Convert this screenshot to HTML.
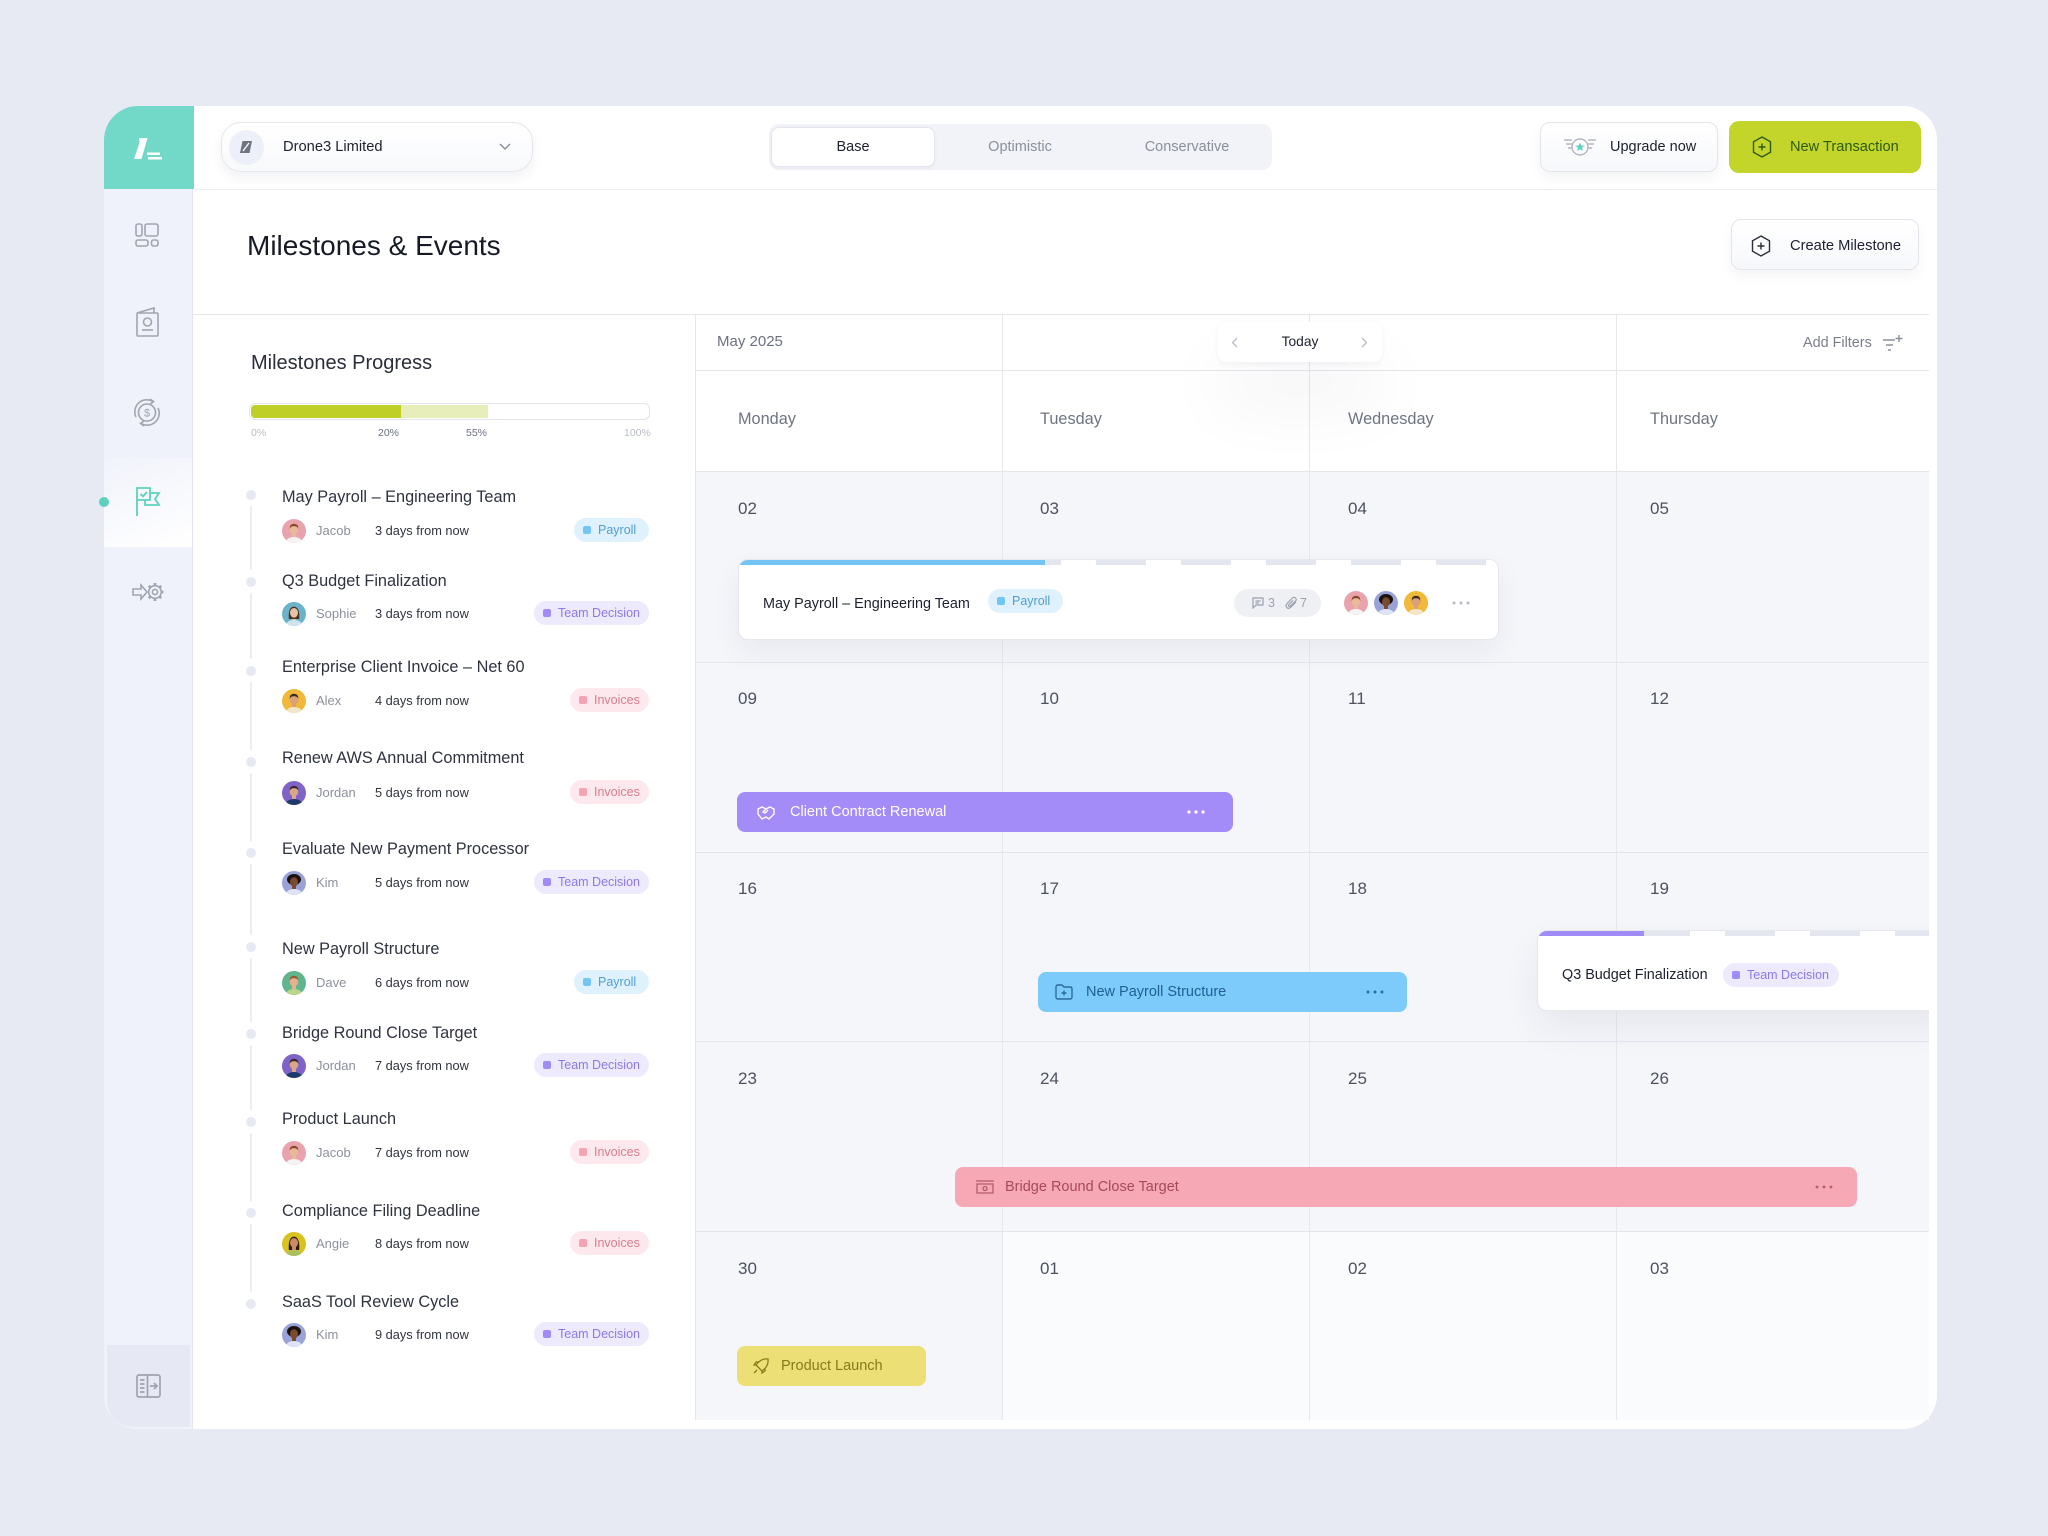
<!DOCTYPE html>
<html><head><meta charset="utf-8">
<style>
*{box-sizing:border-box;margin:0;padding:0}
html,body{width:2048px;height:1536px;overflow:hidden}
body{background:#e8eaf3;font-family:"Liberation Sans",sans-serif;position:relative;color:#1d2130}
.a{position:absolute}
svg{display:block}
.t{white-space:nowrap}
.btn{position:absolute;border:1.5px solid #e3e5ec;background:linear-gradient(180deg,#ffffff,#f7f8fb);border-radius:10px;box-shadow:0 6px 12px rgba(30,40,80,0.05)}
.ttl{position:absolute;font-size:16.3px;line-height:20px;color:#2f3340;white-space:nowrap}
.nm{position:absolute;font-size:13px;line-height:16px;color:#8b909c;white-space:nowrap}
.dy{position:absolute;font-size:12.8px;line-height:16px;color:#30343f;white-space:nowrap}
.av{position:absolute;width:24px;height:24px;border-radius:50%;overflow:hidden}
.dot{position:absolute;width:10px;height:10px;border-radius:50%;background:#e6e9f2}
.tl{position:absolute;width:2px;background:#eceef5}
.tag{position:absolute;height:24px;border-radius:12px;font-size:12.5px;line-height:24px;white-space:nowrap;padding-left:24px}
.tag i{position:absolute;left:9px;top:8px;width:8px;height:8px;border-radius:2px}
.pay{background:#dff1fd;color:#4f9fd1}.pay i{background:#72c6f6}
.team{background:#eeeafd;color:#8d78e6}.team i{background:#a18cf7}
.inv{background:#fde9ed;color:#d57d8e}.inv i{background:#f4a3b2}
.hl{position:absolute;left:0;width:1234px;height:1px;background:#e4e6ec}
.vl{position:absolute;top:0;width:1px;height:1105px;background:#e6e8ee}
.dn{position:absolute;font-size:16.3px;line-height:20px;color:#6f7483;white-space:nowrap}
.dt{position:absolute;font-size:17px;line-height:20px;color:#4d5260;white-space:nowrap}
.bar{position:absolute;height:40px;border-radius:8px;font-size:14.5px;line-height:40px;white-space:nowrap}
.bar .a{top:0}
</style></head><body>

<!-- main card -->
<div class="a" style="left:104px;top:106px;width:1833px;height:1323px;background:#fff;border-radius:34px;overflow:hidden">
  <div class="a" style="left:0;top:0;width:89px;height:1323px;background:#eff2fb;border-right:1px solid #e3e6ee"></div>
  <div class="a" style="left:0;top:0;width:90px;height:83px;background:#72d8c7"></div>
  <div class="a" style="left:0;top:352px;width:88px;height:89px;background:linear-gradient(160deg,#f1f3fb 0%,#ffffff 100%)"></div>
  <div class="a" style="left:3px;top:1239px;width:83px;height:82px;background:#e6e9f3;border-radius:2px 2px 2px 26px"></div>
</div>

<!-- logo -->
<svg class="a" style="left:128px;top:134px" width="40" height="30" viewBox="128 134 40 30">
  <polygon points="141,138 147.5,138 141.5,159 134,159" fill="#fff"/>
  <rect x="139" y="138" width="4" height="3" fill="#fff"/>
  <rect x="147" y="152.5" width="13" height="2.5" fill="#fff"/>
  <rect x="148" y="157" width="14" height="2.5" fill="#fff"/>
</svg>

<!-- sidebar icons -->
<svg class="a" style="left:135px;top:223px" width="24" height="24" viewBox="0 0 24 24" fill="none" stroke="#a0a5b1" stroke-width="1.6"><rect x="1" y="1" width="6" height="12" rx="2"/><rect x="10" y="1" width="13" height="12" rx="2"/><rect x="1" y="17" width="12" height="6" rx="2"/><rect x="16.5" y="17" width="6.5" height="6" rx="2"/></svg>
<svg class="a" style="left:136px;top:307px" width="23" height="30" viewBox="0 0 23 30" fill="none" stroke="#a0a5b1" stroke-width="1.6"><rect x="1" y="6" width="21" height="23" rx="1"/><path d="M1 6 L18 1 V6"/><circle cx="11.5" cy="15" r="4"/><path d="M6 23 H17"/></svg>
<svg class="a" style="left:132px;top:397px" width="30" height="31" viewBox="0 0 30 31" fill="none" stroke="#a0a5b1" stroke-width="1.6"><circle cx="15" cy="15.5" r="8.5"/><path d="M4 20 A12 12 0 0 1 21 4.5"/><path d="M26 11 A12 12 0 0 1 9 26.5"/><path d="M18 2 L21.5 4.5 L18 7.5"/><path d="M12 24 L8.5 26.5 L12 29"/><text x="15" y="19.5" text-anchor="middle" font-size="11" font-family="Liberation Sans, sans-serif" fill="#a0a5b1" stroke="none">$</text></svg>
<div class="a" style="left:99px;top:497px;width:10px;height:10px;border-radius:50%;background:#5dd1bd"></div>
<svg class="a" style="left:135px;top:487px" width="26" height="30" viewBox="0 0 26 30" fill="none" stroke="#5dd1bd" stroke-width="1.8"><path d="M2 29 V1 H15 V13 H2"/><path d="M15 6 H24 L20 12 L24 18 H10 V13"/><path d="M5.5 7 L8 9.5 L12 5"/></svg>
<svg class="a" style="left:132px;top:580px" width="32" height="24" viewBox="0 0 32 24" fill="none" stroke="#a0a5b1" stroke-width="1.6"><path d="M1 9 H9 V5 L15 12 L9 19 V15 H1 Z"/><circle cx="23" cy="12" r="6.3"/><circle cx="23" cy="12" r="2.6"/><g stroke-width="2.6"><path d="M23 3 V5.5 M23 18.5 V21 M29.5 12 H31.5 M27.6 7.4 L29.2 5.8 M27.6 16.6 L29.2 18.2 M18.4 7.4 L16.8 5.8 M18.4 16.6 L16.8 18.2"/></g></svg>
<svg class="a" style="left:136px;top:1374px" width="25" height="24" viewBox="0 0 25 24" fill="none" stroke="#9ea3b0" stroke-width="1.7"><rect x="1" y="1" width="23" height="22" rx="2"/><path d="M11.5 1 V23"/><path d="M4 6 H8.5 M4 10 H8.5 M4 14 H8.5 M4 18 H8.5"/><path d="M14 12 H21 M18 9 L21 12 L18 15"/></svg>

<!-- separators -->
<div class="a" style="left:193px;top:189px;width:1744px;height:1px;background:#eceef3"></div>
<div class="a" style="left:193px;top:314px;width:1736px;height:1px;background:#e4e6ec"></div>
<div class="a" style="left:695px;top:315px;width:1px;height:1105px;background:#e4e6ec"></div>

<!-- top bar -->
<div class="a" style="left:221px;top:122px;width:312px;height:50px;border-radius:20px;border:1.5px solid #e4e6ec;background:linear-gradient(180deg,#fff,#f8f9fc);box-shadow:0 6px 12px rgba(30,40,80,0.06)"></div>
<div class="a" style="left:229px;top:130px;width:35px;height:35px;border-radius:50%;background:#eef0f9"></div>
<svg class="a" style="left:239px;top:140px" width="14" height="14" viewBox="0 0 14 14"><path d="M3.5 1 H13 L10.5 13 H1 Z" fill="#6f7482"/><path d="M4 11 L10 3" stroke="#fff" stroke-width="1.3"/></svg>
<div class="a t" style="left:283px;top:138px;font-size:14.7px;line-height:18px;color:#1d2130">Drone3 Limited</div>
<svg class="a" style="left:499px;top:143px" width="12" height="8" viewBox="0 0 12 8" fill="none" stroke="#8a8f9c" stroke-width="1.5"><path d="M1 1 L6 6 L11 1"/></svg>

<div class="a" style="left:769px;top:124px;width:503px;height:46px;border-radius:10px;background:#f1f3f8"></div>
<div class="a" style="left:771px;top:127px;width:164px;height:40px;border-radius:8px;background:#fff;border:1px solid #e3e5eb;box-shadow:0 2px 4px rgba(30,40,80,0.04)"></div>
<div class="a t" style="left:771px;top:127px;width:164px;text-align:center;font-size:14.5px;line-height:40px;color:#1d2130">Base</div>
<div class="a t" style="left:940px;top:127px;width:160px;text-align:center;font-size:14.5px;line-height:40px;color:#8a8f9c">Optimistic</div>
<div class="a t" style="left:1107px;top:127px;width:160px;text-align:center;font-size:14.5px;line-height:40px;color:#8a8f9c">Conservative</div>

<div class="btn" style="left:1540px;top:122px;width:178px;height:50px"></div>
<svg class="a" style="left:1562px;top:135px" width="36" height="24" viewBox="0 0 36 24" fill="none" stroke="#b3b7c2" stroke-width="1.4"><circle cx="18" cy="12" r="8"/><path d="M2 5 H10 M4 9 H10 M6 13 H10 M26 5 H34 M26 9 H32 M26 13 H30"/><path d="M18 7.5 L19.3 10.5 L22.5 10.7 L20 12.8 L20.9 16 L18 14.2 L15.1 16 L16 12.8 L13.5 10.7 L16.7 10.5Z" fill="#5dd1bd" stroke="none"/></svg>
<div class="a t" style="left:1610px;top:138px;font-size:14.5px;line-height:18px;color:#1d2130">Upgrade now</div>

<div class="a" style="left:1729px;top:121px;width:192px;height:52px;border-radius:10px;background:#c3d42b"></div>
<svg class="a" style="left:1752px;top:136px" width="20" height="22" viewBox="0 0 20 22" fill="none" stroke="#2d5a17" stroke-width="1.4"><path d="M10 1 L18.5 5.8 V16.2 L10 21 L1.5 16.2 V5.8 Z"/><path d="M10 7.5 V14.5 M6.5 11 H13.5"/></svg>
<div class="a t" style="left:1790px;top:138px;font-size:14.6px;line-height:18px;color:#2d5a17">New Transaction</div>

<!-- page header -->
<div class="a t" style="left:247px;top:229px;font-size:28px;line-height:34px;color:#161a26">Milestones &amp; Events</div>
<div class="btn" style="left:1731px;top:219px;width:188px;height:51px"></div>
<svg class="a" style="left:1751px;top:235px" width="20" height="22" viewBox="0 0 20 22" fill="none" stroke="#2a2e3a" stroke-width="1.4"><path d="M10 1 L18.5 5.8 V16.2 L10 21 L1.5 16.2 V5.8 Z"/><path d="M10 7.5 V14.5 M6.5 11 H13.5"/></svg>
<div class="a t" style="left:1790px;top:237px;font-size:14.7px;line-height:18px;color:#1d2130">Create Milestone</div>

<!-- left panel -->
<div class="a t" style="left:251px;top:351px;font-size:20px;line-height:24px;color:#2a2e3a">Milestones Progress</div>
<div class="a" style="left:249px;top:403px;width:401px;height:17px;border-radius:6px;border:1px solid #e2e4ea;background:#fff"></div>
<div class="a" style="left:401px;top:405px;width:87px;height:13px;background:#e8eeb9"></div>
<div class="a" style="left:251px;top:405px;width:150px;height:13px;border-radius:4px 0 0 4px;background:#bfcf27"></div>
<div class="a t" style="left:251px;top:426px;font-size:10.5px;line-height:14px;color:#b9bdc6">0%</div>
<div class="a t" style="left:378px;top:426px;font-size:10.5px;line-height:14px;color:#6b7080">20%</div>
<div class="a t" style="left:466px;top:426px;font-size:10.5px;line-height:14px;color:#6b7080">55%</div>
<div class="a t" style="left:624px;top:426px;font-size:10.5px;line-height:14px;color:#b9bdc6">100%</div>

<!-- item 1 -->
<div class="dot" style="left:246px;top:490px"></div><div class="tl" style="left:250px;top:506px;height:64px"></div>
<div class="ttl" style="left:282px;top:487px">May Payroll – Engineering Team</div>
<div class="av" style="left:282px;top:519px"><svg width="24" height="24" viewBox="0 0 24 24"><rect width="24" height="24" fill="#e9a3ad"/><ellipse cx="12" cy="25" rx="9" ry="7" fill="#f3f3f3"/><rect x="10" y="14" width="4" height="4" fill="#e8b99a"/><ellipse cx="12" cy="10.5" rx="4.3" ry="5" fill="#e8b99a"/><path d="M7.6 10 Q7.5 4.8 12 4.8 Q16.5 4.8 16.4 10 Q15 7 12 7.3 Q9 7 7.6 10Z" fill="#8a4a2a"/></svg></div>
<div class="nm" style="left:316px;top:523px">Jacob</div><div class="dy" style="left:375px;top:523px">3 days from now</div>
<div class="tag pay" style="left:574px;top:518px;width:75px"><i></i>Payroll</div>

<!-- item 2 -->
<div class="dot" style="left:246px;top:577px"></div><div class="tl" style="left:250px;top:593px;height:66px"></div>
<div class="ttl" style="left:282px;top:571px">Q3 Budget Finalization</div>
<div class="av" style="left:282px;top:602px"><svg width="24" height="24" viewBox="0 0 24 24"><rect width="24" height="24" fill="#6ab3c9"/><ellipse cx="12" cy="25" rx="9" ry="7" fill="#cfe3ec"/><rect x="10" y="14" width="4" height="4" fill="#e9c2a6"/><path d="M6.8 17 Q6 5 12 4.6 Q18 5 17.2 17Z" fill="#4a2f22"/><ellipse cx="12" cy="10.8" rx="4" ry="4.8" fill="#e9c2a6"/></svg></div>
<div class="nm" style="left:316px;top:606px">Sophie</div><div class="dy" style="left:375px;top:606px">3 days from now</div>
<div class="tag team" style="left:534px;top:601px;width:115px"><i></i>Team Decision</div>

<!-- item 3 -->
<div class="dot" style="left:246px;top:666px"></div><div class="tl" style="left:250px;top:682px;height:68px"></div>
<div class="ttl" style="left:282px;top:657px">Enterprise Client Invoice – Net 60</div>
<div class="av" style="left:282px;top:689px"><svg width="24" height="24" viewBox="0 0 24 24"><rect width="24" height="24" fill="#f0b93a"/><ellipse cx="12" cy="25" rx="9" ry="7" fill="#f2e6c8"/><rect x="10" y="14" width="4" height="4" fill="#d9a07a"/><ellipse cx="12" cy="10.5" rx="4.3" ry="5" fill="#d9a07a"/><path d="M7.6 10 Q7.5 4.8 12 4.8 Q16.5 4.8 16.4 10 Q15 7 12 7.3 Q9 7 7.6 10Z" fill="#3a2a20"/></svg></div>
<div class="nm" style="left:316px;top:693px">Alex</div><div class="dy" style="left:375px;top:693px">4 days from now</div>
<div class="tag inv" style="left:570px;top:688px;width:79px"><i></i>Invoices</div>

<!-- item 4 -->
<div class="dot" style="left:246px;top:757px"></div><div class="tl" style="left:250px;top:773px;height:68px"></div>
<div class="ttl" style="left:282px;top:748px">Renew AWS Annual Commitment</div>
<div class="av" style="left:282px;top:781px"><svg width="24" height="24" viewBox="0 0 24 24"><rect width="24" height="24" fill="#7f63c9"/><ellipse cx="12" cy="25" rx="9" ry="7" fill="#1f3a6a"/><rect x="10" y="14" width="4" height="4" fill="#d9a686"/><ellipse cx="12" cy="10.5" rx="4.3" ry="5" fill="#d9a686"/><path d="M7.6 10 Q7.5 4.8 12 4.8 Q16.5 4.8 16.4 10 Q15 7 12 7.3 Q9 7 7.6 10Z" fill="#3a2a22"/></svg></div>
<div class="nm" style="left:316px;top:785px">Jordan</div><div class="dy" style="left:375px;top:785px">5 days from now</div>
<div class="tag inv" style="left:570px;top:780px;width:79px"><i></i>Invoices</div>

<!-- item 5 -->
<div class="dot" style="left:246px;top:848px"></div><div class="tl" style="left:250px;top:864px;height:71px"></div>
<div class="ttl" style="left:282px;top:839px">Evaluate New Payment Processor</div>
<div class="av" style="left:282px;top:871px"><svg width="24" height="24" viewBox="0 0 24 24"><rect width="24" height="24" fill="#9aa3d8"/><ellipse cx="12" cy="25" rx="9" ry="7" fill="#dfe3f5"/><ellipse cx="12" cy="8.5" rx="7" ry="5.5" fill="#1a120e"/><rect x="10" y="14" width="4" height="4" fill="#7a4a30"/><ellipse cx="12" cy="11" rx="4" ry="4.7" fill="#7a4a30"/></svg></div>
<div class="nm" style="left:316px;top:875px">Kim</div><div class="dy" style="left:375px;top:875px">5 days from now</div>
<div class="tag team" style="left:534px;top:870px;width:115px"><i></i>Team Decision</div>

<!-- item 6 -->
<div class="dot" style="left:246px;top:942px"></div><div class="tl" style="left:250px;top:958px;height:64px"></div>
<div class="ttl" style="left:282px;top:939px">New Payroll Structure</div>
<div class="av" style="left:282px;top:971px"><svg width="24" height="24" viewBox="0 0 24 24"><rect width="24" height="24" fill="#5fb58d"/><ellipse cx="12" cy="25" rx="9" ry="7" fill="#b9d68a"/><rect x="10" y="14" width="4" height="4" fill="#e7b08e"/><ellipse cx="12" cy="10.5" rx="4.3" ry="5" fill="#e7b08e"/><path d="M7.6 10 Q7.5 4.8 12 4.8 Q16.5 4.8 16.4 10 Q15 7 12 7.3 Q9 7 7.6 10Z" fill="#9a5a30"/></svg></div>
<div class="nm" style="left:316px;top:975px">Dave</div><div class="dy" style="left:375px;top:975px">6 days from now</div>
<div class="tag pay" style="left:574px;top:970px;width:75px"><i></i>Payroll</div>

<!-- item 7 -->
<div class="dot" style="left:246px;top:1029px"></div><div class="tl" style="left:250px;top:1045px;height:65px"></div>
<div class="ttl" style="left:282px;top:1023px">Bridge Round Close Target</div>
<div class="av" style="left:282px;top:1054px"><svg width="24" height="24" viewBox="0 0 24 24"><rect width="24" height="24" fill="#7f63c9"/><ellipse cx="12" cy="25" rx="9" ry="7" fill="#1f3a6a"/><rect x="10" y="14" width="4" height="4" fill="#d9a686"/><ellipse cx="12" cy="10.5" rx="4.3" ry="5" fill="#d9a686"/><path d="M7.6 10 Q7.5 4.8 12 4.8 Q16.5 4.8 16.4 10 Q15 7 12 7.3 Q9 7 7.6 10Z" fill="#3a2a22"/></svg></div>
<div class="nm" style="left:316px;top:1058px">Jordan</div><div class="dy" style="left:375px;top:1058px">7 days from now</div>
<div class="tag team" style="left:534px;top:1053px;width:115px"><i></i>Team Decision</div>

<!-- item 8 -->
<div class="dot" style="left:246px;top:1117px"></div><div class="tl" style="left:250px;top:1133px;height:68px"></div>
<div class="ttl" style="left:282px;top:1109px">Product Launch</div>
<div class="av" style="left:282px;top:1141px"><svg width="24" height="24" viewBox="0 0 24 24"><rect width="24" height="24" fill="#e9a3ad"/><ellipse cx="12" cy="25" rx="9" ry="7" fill="#f3f3f3"/><rect x="10" y="14" width="4" height="4" fill="#e8b99a"/><ellipse cx="12" cy="10.5" rx="4.3" ry="5" fill="#e8b99a"/><path d="M7.6 10 Q7.5 4.8 12 4.8 Q16.5 4.8 16.4 10 Q15 7 12 7.3 Q9 7 7.6 10Z" fill="#8a4a2a"/></svg></div>
<div class="nm" style="left:316px;top:1145px">Jacob</div><div class="dy" style="left:375px;top:1145px">7 days from now</div>
<div class="tag inv" style="left:570px;top:1140px;width:79px"><i></i>Invoices</div>

<!-- item 9 -->
<div class="dot" style="left:246px;top:1208px"></div><div class="tl" style="left:250px;top:1224px;height:68px"></div>
<div class="ttl" style="left:282px;top:1201px">Compliance Filing Deadline</div>
<div class="av" style="left:282px;top:1232px"><svg width="24" height="24" viewBox="0 0 24 24"><rect width="24" height="24" fill="#d9c21e"/><ellipse cx="12" cy="25" rx="9" ry="7" fill="#a8c060"/><path d="M6.8 18 Q6 5 12 4.6 Q18 5 17.2 18Z" fill="#2a1a12"/><rect x="10" y="14" width="4" height="4" fill="#c98a6a"/><ellipse cx="12" cy="10.8" rx="4" ry="4.8" fill="#c98a6a"/></svg></div>
<div class="nm" style="left:316px;top:1236px">Angie</div><div class="dy" style="left:375px;top:1236px">8 days from now</div>
<div class="tag inv" style="left:570px;top:1231px;width:79px"><i></i>Invoices</div>

<!-- item 10 -->
<div class="dot" style="left:246px;top:1299px"></div>
<div class="ttl" style="left:282px;top:1292px">SaaS Tool Review Cycle</div>
<div class="av" style="left:282px;top:1323px"><svg width="24" height="24" viewBox="0 0 24 24"><rect width="24" height="24" fill="#9aa3d8"/><ellipse cx="12" cy="25" rx="9" ry="7" fill="#dfe3f5"/><ellipse cx="12" cy="8.5" rx="7" ry="5.5" fill="#1a120e"/><rect x="10" y="14" width="4" height="4" fill="#7a4a30"/><ellipse cx="12" cy="11" rx="4" ry="4.7" fill="#7a4a30"/></svg></div>
<div class="nm" style="left:316px;top:1327px">Kim</div><div class="dy" style="left:375px;top:1327px">9 days from now</div>
<div class="tag team" style="left:534px;top:1322px;width:115px"><i></i>Team Decision</div>

<!-- calendar -->
<div class="a" style="left:696px;top:315px;width:1233px;height:1105px;overflow:hidden;background:#fff">
 <div style="position:absolute;left:-1px;top:0;width:1234px;height:1105px">
  <div class="a" style="left:0;top:156px;width:1234px;height:949px;background:#f5f6fa"></div>
  <div class="a" style="left:307px;top:916px;width:927px;height:189px;background:#fafbfd"></div>
  <div class="hl" style="top:55px"></div>
  <div class="hl" style="top:156px"></div>
  <div class="hl" style="top:347px"></div>
  <div class="hl" style="top:537px"></div>
  <div class="hl" style="top:726px"></div>
  <div class="hl" style="top:916px"></div>
  <div class="vl" style="left:307px"></div>
  <div class="vl" style="left:614px"></div>
  <div class="vl" style="left:921px"></div>

  <div class="a t" style="left:22px;top:18px;font-size:15px;line-height:18px;color:#6b7080">May 2025</div>
  <div class="a" style="left:523px;top:7px;width:164px;height:40px;border-radius:8px;background:#fff;box-shadow:0 2px 6px rgba(20,30,60,0.05),0 40px 70px rgba(20,30,60,0.06)"></div>
  <svg class="a" style="left:536px;top:22px" width="7" height="11" viewBox="0 0 7 11" fill="none" stroke="#b8bcc6" stroke-width="1.3"><path d="M6 1 L1.5 5.5 L6 10"/></svg>
  <div class="a t" style="left:523px;top:7px;width:164px;text-align:center;font-size:13.8px;line-height:40px;color:#1d2130">Today</div>
  <svg class="a" style="left:666px;top:22px" width="7" height="11" viewBox="0 0 7 11" fill="none" stroke="#b8bcc6" stroke-width="1.3"><path d="M1 1 L5.5 5.5 L1 10"/></svg>
  <div class="a t" style="left:1108px;top:19px;font-size:14.4px;line-height:18px;color:#7a7f8c">Add Filters</div>
  <svg class="a" style="left:1188px;top:19px" width="20" height="18" viewBox="0 0 20 18" fill="none" stroke="#8a8f9c" stroke-width="1.4"><path d="M0 6 H12 M3 11 H10 M5 16 H8 M16 1 V8 M12.5 4.5 H19.5"/></svg>

  <div class="dn" style="left:43px;top:94px">Monday</div>
  <div class="dn" style="left:345px;top:94px">Tuesday</div>
  <div class="dn" style="left:653px;top:94px">Wednesday</div>
  <div class="dn" style="left:955px;top:94px">Thursday</div>

  <div class="dt" style="left:43px;top:184px">02</div><div class="dt" style="left:345px;top:184px">03</div><div class="dt" style="left:653px;top:184px">04</div><div class="dt" style="left:955px;top:184px">05</div>
  <div class="dt" style="left:43px;top:374px">09</div><div class="dt" style="left:345px;top:374px">10</div><div class="dt" style="left:653px;top:374px">11</div><div class="dt" style="left:955px;top:374px">12</div>
  <div class="dt" style="left:43px;top:564px">16</div><div class="dt" style="left:345px;top:564px">17</div><div class="dt" style="left:653px;top:564px">18</div><div class="dt" style="left:955px;top:564px">19</div>
  <div class="dt" style="left:43px;top:754px">23</div><div class="dt" style="left:345px;top:754px">24</div><div class="dt" style="left:653px;top:754px">25</div><div class="dt" style="left:955px;top:754px">26</div>
  <div class="dt" style="left:43px;top:944px">30</div><div class="dt" style="left:345px;top:944px">01</div><div class="dt" style="left:653px;top:944px">02</div><div class="dt" style="left:955px;top:944px">03</div>

  <!-- May Payroll card -->
  <div class="a" style="left:43px;top:244px;width:761px;height:81px;border-radius:10px;background:#fff;border:1px solid #e6e8ee;overflow:hidden;box-shadow:0 12px 30px rgba(30,40,80,0.06)">
    <div class="a" style="left:0;top:0;width:306px;height:5px;background:#74c3f5"></div>
    <div class="a" style="left:306px;top:0;width:455px;height:5px;background:repeating-linear-gradient(90deg,#e3e6ee 0 16px,#fff 16px 51px,#e3e6ee 51px 85px)"></div>
    <div class="a t" style="left:24px;top:34px;font-size:14.4px;line-height:20px;color:#1d2130">May Payroll – Engineering Team</div>
    <div class="tag pay" style="left:249px;top:29px;width:75px"><i></i>Payroll</div>
    <div class="a" style="left:495px;top:29px;width:87px;height:28px;border-radius:14px;background:#eef0f4"></div>
    <svg class="a" style="left:513px;top:37px" width="12" height="12" viewBox="0 0 12 12" fill="none" stroke="#9ca1ad" stroke-width="1.2"><path d="M1 1 H11 V8 H4 L1 11 Z"/><path d="M3.5 4 H8.5 M3.5 6 H7"/></svg>
    <div class="a t" style="left:529px;top:35px;font-size:12.5px;line-height:16px;color:#9ca1ad">3</div>
    <svg class="a" style="left:546px;top:36px" width="13" height="14" viewBox="0 0 13 14" fill="none" stroke="#9ca1ad" stroke-width="1.2"><path d="M11 6 L6 11 Q3.5 13.5 1.8 11.5 Q0 9.5 2.5 7 L7.5 2 Q9 0.5 10.5 2 Q12 3.5 10.5 5 L5.5 10 Q4.5 11 3.8 10.2 Q3 9.4 4 8.4 L8 4.4"/></svg>
    <div class="a t" style="left:561px;top:35px;font-size:12.5px;line-height:16px;color:#9ca1ad">7</div>
    <div class="av" style="left:605px;top:31px"><svg width="24" height="24" viewBox="0 0 24 24"><rect width="24" height="24" fill="#e9a3ad"/><ellipse cx="12" cy="25" rx="9" ry="7" fill="#f3f3f3"/><rect x="10" y="14" width="4" height="4" fill="#e8b99a"/><ellipse cx="12" cy="10.5" rx="4.3" ry="5" fill="#e8b99a"/><path d="M7.6 10 Q7.5 4.8 12 4.8 Q16.5 4.8 16.4 10 Q15 7 12 7.3 Q9 7 7.6 10Z" fill="#8a4a2a"/></svg></div>
    <div class="av" style="left:635px;top:31px"><svg width="24" height="24" viewBox="0 0 24 24"><rect width="24" height="24" fill="#9aa3d8"/><ellipse cx="12" cy="25" rx="9" ry="7" fill="#dfe3f5"/><ellipse cx="12" cy="8.5" rx="7" ry="5.5" fill="#1a120e"/><rect x="10" y="14" width="4" height="4" fill="#7a4a30"/><ellipse cx="12" cy="11" rx="4" ry="4.7" fill="#7a4a30"/></svg></div>
    <div class="av" style="left:665px;top:31px"><svg width="24" height="24" viewBox="0 0 24 24"><rect width="24" height="24" fill="#f0b93a"/><ellipse cx="12" cy="25" rx="9" ry="7" fill="#f2e6c8"/><rect x="10" y="14" width="4" height="4" fill="#d9a07a"/><ellipse cx="12" cy="10.5" rx="4.3" ry="5" fill="#d9a07a"/><path d="M7.6 10 Q7.5 4.8 12 4.8 Q16.5 4.8 16.4 10 Q15 7 12 7.3 Q9 7 7.6 10Z" fill="#3a2a20"/></svg></div>
    <svg class="a" style="left:713px;top:41px" width="18" height="4" viewBox="0 0 18 4" fill="#b8bcc6"><circle cx="2" cy="2" r="1.5"/><circle cx="9" cy="2" r="1.5"/><circle cx="16" cy="2" r="1.5"/></svg>
  </div>

  <!-- Client Contract Renewal -->
  <div class="bar" style="left:42px;top:477px;width:496px;background:#a38cf8;color:#fff">
    <svg class="a" style="left:20px;top:13px" width="18" height="16" viewBox="0 0 18 16" fill="none" stroke="#fff" stroke-width="1.4"><path d="M1 4 L5 2 L9 4 L13 2 L17 4 V9 L12 14 L9 12 L5 14 L1 9 Z"/><path d="M9 4 L6 7 L8 8 L11 5"/></svg>
    <span class="a" style="left:53px">Client Contract Renewal</span>
    <svg class="a" style="left:450px;top:18px" width="18" height="4" viewBox="0 0 18 4" fill="#fff"><circle cx="2" cy="2" r="1.6"/><circle cx="9" cy="2" r="1.6"/><circle cx="16" cy="2" r="1.6"/></svg>
  </div>

  <!-- New Payroll Structure -->
  <div class="bar" style="left:343px;top:657px;width:369px;background:#7dcbfb;color:#1f5f8f">
    <svg class="a" style="left:17px;top:12px" width="18" height="16" viewBox="0 0 18 16" fill="none" stroke="#2b6d9c" stroke-width="1.4"><path d="M1 3 Q1 1 3 1 H7 L9 3 H15 Q17 3 17 5 V13 Q17 15 15 15 H3 Q1 15 1 13 Z"/><path d="M9 6.5 V11.5 M6.5 9 H11.5"/></svg>
    <span class="a" style="left:48px">New Payroll Structure</span>
    <svg class="a" style="left:328px;top:18px" width="18" height="4" viewBox="0 0 18 4" fill="#2b6d9c"><circle cx="2" cy="2" r="1.5"/><circle cx="9" cy="2" r="1.5"/><circle cx="16" cy="2" r="1.5"/></svg>
  </div>

  <!-- Q3 Budget card -->
  <div class="a" style="left:842px;top:615px;width:420px;height:81px;border-radius:10px;background:#fff;border:1px solid #e6e8ee;overflow:hidden;box-shadow:0 16px 36px rgba(30,40,80,0.07)">
    <div class="a" style="left:0;top:0;width:106px;height:5px;background:#a08af5"></div>
    <div class="a" style="left:106px;top:0;width:314px;height:5px;background:repeating-linear-gradient(90deg,#e3e6ee 0 46px,#fff 46px 81px,#e3e6ee 81px 85px)"></div>
    <div class="a t" style="left:24px;top:34px;font-size:14.4px;line-height:20px;color:#1d2130">Q3 Budget Finalization</div>
    <div class="tag team" style="left:185px;top:32px;width:116px"><i></i>Team Decision</div>
  </div>

  <!-- Bridge Round -->
  <div class="bar" style="left:260px;top:852px;width:902px;background:#f7a8b5;color:#a9485c">
    <svg class="a" style="left:20px;top:13px" width="20" height="14" viewBox="0 0 20 14" fill="none" stroke="#b65a6e" stroke-width="1.3"><path d="M1 1 H19"/><path d="M2 4 H18 V13 H2 Z"/><circle cx="10" cy="8.5" r="2"/></svg>
    <span class="a" style="left:50px">Bridge Round Close Target</span>
    <svg class="a" style="left:860px;top:18px" width="18" height="4" viewBox="0 0 18 4" fill="#b65a6e"><circle cx="2" cy="2" r="1.4"/><circle cx="9" cy="2" r="1.4"/><circle cx="16" cy="2" r="1.4"/></svg>
  </div>

  <!-- Product Launch -->
  <div class="bar" style="left:42px;top:1031px;width:189px;background:#ebdf76;color:#867a1e">
    <svg class="a" style="left:16px;top:12px" width="16" height="16" viewBox="0 0 16 16" fill="none" stroke="#8a7d20" stroke-width="1.3"><path d="M6 10 L3 7 Q8 0 15 1 Q16 8 9 13 Z"/><path d="M3 7 L1 7 L3 4 L6 4"/><path d="M9 13 L9 15 L12 13 L12 10"/><path d="M4 12 L1 15"/></svg>
    <span class="a" style="left:44px">Product Launch</span>
  </div>
 </div>
</div>

</body></html>
